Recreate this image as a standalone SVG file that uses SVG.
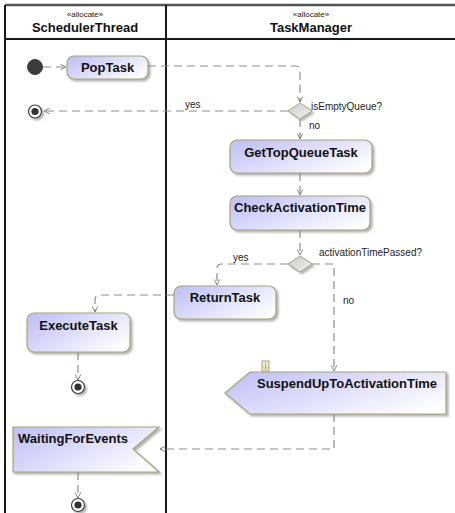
<svg xmlns="http://www.w3.org/2000/svg" width="455" height="513" viewBox="0 0 455 513">
<defs>
<linearGradient id="nodeFill" x1="0" y1="0.2" x2="1" y2="0.8">
<stop offset="0" stop-color="#c2c2f7"/>
<stop offset="1" stop-color="#ffffff"/>
</linearGradient>
<linearGradient id="decFill" x1="0" y1="0" x2="1" y2="1">
<stop offset="0" stop-color="#c8c8c8"/>
<stop offset="1" stop-color="#f4f4f4"/>
</linearGradient>
<filter id="shadow" x="-10%" y="-10%" width="130%" height="140%">
<feDropShadow dx="2" dy="2" stdDeviation="1" flood-color="#808080" flood-opacity="0.6"/>
</filter>
<marker id="arrow" viewBox="0 0 10 10" refX="9" refY="5" markerWidth="7" markerHeight="7" markerUnits="userSpaceOnUse" orient="auto">
<path d="M1,1 L9,5 L1,9" fill="none" stroke="#777" stroke-width="1.3"/>
</marker>
<style>
.frame{fill:none;stroke:#1a1a1a;stroke-width:2}
.node{fill:url(#nodeFill);stroke:#a8a47c;stroke-width:1.2;filter:url(#shadow)}
.dec{fill:url(#decFill);stroke:#a8a47c;stroke-width:1;filter:url(#shadow)}
.lbl{font-family:"Liberation Sans",Arial,sans-serif;font-size:13px;font-weight:bold;fill:#111}
.small{font-family:"Liberation Sans",Arial,sans-serif;font-size:10px;fill:#222}
.stereo{font-family:"Liberation Sans",Arial,sans-serif;font-size:8px;fill:#222}
.edge{fill:none;stroke:#8c8c8c;stroke-width:1.2;stroke-dasharray:8 5;marker-end:url(#arrow)}
.init{fill:#3c3c3c;stroke:#3c3c3c}
.finOuter{fill:#fff;stroke:#3c3c3c;stroke-width:1.2;filter:url(#shadow)}
.finInner{fill:#333}
</style>
</defs>
<rect width="455" height="513" fill="#fff"/>

<g id="frame">
<line x1="5" y1="5" x2="455" y2="5" stroke="#555" stroke-width="2.5"/>
<line x1="5" y1="5" x2="5" y2="513" class="frame"/>
<line x1="5" y1="39" x2="455" y2="39" class="frame"/>
<line x1="166" y1="5" x2="166" y2="513" class="frame"/>
</g>

<g id="lane-SchedulerThread">
<text x="85" y="17" class="stereo" text-anchor="middle">«allocate»</text>
<text x="85" y="32" class="lbl" text-anchor="middle">SchedulerThread</text>
</g>
<g id="lane-TaskManager">
<text x="311" y="17" class="stereo" text-anchor="middle">«allocate»</text>
<text x="311" y="32" class="lbl" text-anchor="middle">TaskManager</text>
</g>

<g id="connectors">
<path class="edge" d="M43,67 H66"/>
<path class="edge" d="M148,66 H296 Q300,66 300,70 V102"/>
<path class="edge" d="M288,111 H44"/>
<path class="edge" d="M300,119 V139"/>
<path class="edge" d="M300,173 V195"/>
<path class="edge" d="M300,230 V255"/>
<path class="edge" d="M288,264 H222 Q217,264 217,269 V285"/>
<path class="edge" d="M312,264 H334 V371"/>
<path class="edge" d="M174,295 H100 Q95,295 95,300 V312"/>
<path class="edge" d="M78,352 V380"/>
<path class="edge" d="M334,414 V449 H160"/>
<path class="edge" d="M78,472 V498"/>
<text x="185" y="108" class="small">yes</text>
<text x="311" y="110" class="small">isEmptyQueue?</text>
<text x="309" y="129" class="small">no</text>
<text x="233" y="261" class="small">yes</text>
<text x="319" y="256" class="small">activationTimePassed?</text>
<text x="343" y="304" class="small">no</text>
</g>

<g id="initial">
<circle cx="35" cy="67" r="7.5" class="init"/>
</g>

<g id="PopTask">
<rect x="67" y="56" width="81" height="23" rx="7" class="node"/>
<text x="107.5" y="72" class="lbl" text-anchor="middle">PopTask</text>
</g>

<g id="isEmptyQueue">
<polygon points="300,103 312,111 300,119 288,111" class="dec"/>
</g>

<g id="final1">
<circle cx="35" cy="111.5" r="6.5" class="finOuter"/>
<circle cx="35" cy="111.5" r="3.6" class="finInner"/>
</g>

<g id="GetTopQueueTask">
<rect x="230" y="140" width="142" height="33" rx="7" class="node"/>
<text x="301" y="157" class="lbl" text-anchor="middle">GetTopQueueTask</text>
</g>

<g id="CheckActivationTime">
<rect x="230" y="196" width="140" height="34" rx="7" class="node"/>
<text x="300" y="212" class="lbl" text-anchor="middle">CheckActivationTime</text>
</g>

<g id="activationTimePassed">
<polygon points="300,256 312,264 300,272 288,264" class="dec"/>
</g>

<g id="ReturnTask">
<rect x="174" y="286" width="102" height="33" rx="7" class="node"/>
<text x="225" y="302" class="lbl" text-anchor="middle">ReturnTask</text>
</g>

<g id="ExecuteTask">
<rect x="27" y="313" width="103" height="39" rx="7" class="node"/>
<text x="78.5" y="330" class="lbl" text-anchor="middle">ExecuteTask</text>
</g>

<g id="final2">
<circle cx="78" cy="387" r="6.5" class="finOuter"/>
<circle cx="78" cy="387" r="3.6" class="finInner"/>
</g>

<g id="SuspendUpToActivationTime">
<polygon points="225,393 250,372 446,372 446,414 250,414" class="node"/>
<text x="257" y="388" class="lbl">SuspendUpToActivationTime</text>
<rect x="262" y="361" width="7" height="10" fill="#eeeec4" stroke="#a8a47c" stroke-width="1"/>
<path d="M265.5,363 V369 M263.5,367 L265.5,369 L267.5,367" fill="none" stroke="#a8a47c" stroke-width="0.8"/>
</g>

<g id="WaitingForEvents">
<polygon points="13,427 159,427 133,449 159,472 13,472" class="node"/>
<text x="18" y="443" class="lbl">WaitingForEvents</text>
</g>

<g id="final3">
<circle cx="78" cy="505" r="6.5" class="finOuter"/>
<circle cx="78" cy="505" r="3.6" class="finInner"/>
</g>
</svg>
